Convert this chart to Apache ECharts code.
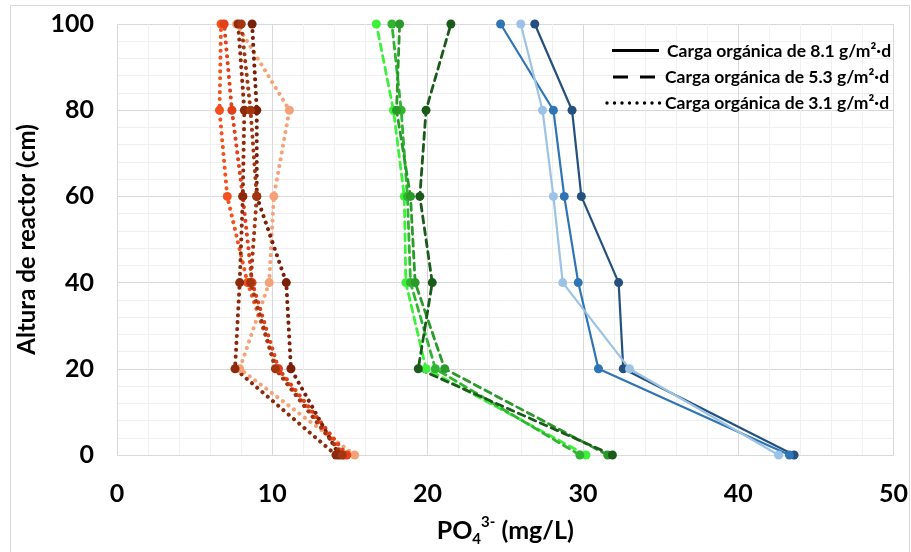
<!DOCTYPE html>
<html><head><meta charset="utf-8">
<script src="https://cdn.jsdelivr.net/npm/echarts@6/dist/echarts.min.js"></script>
<style>html,body{margin:0;padding:0;background:#fff}#c{width:911px;height:552px}</style>
</head><body><div id="c"></div>
<script>
// Reactor heights (cm)
const heights = [0, 20, 40, 60, 80, 100];
const xTicks = [0, 10, 20, 30, 40, 50];
const yTicks = [0, 20, 40, 60, 80, 100];

// Organic load 8.1 g/m2·d (solid)
const blueDark  = [43.6, 32.6, 32.3, 29.9, 29.3, 26.9];
const blueMid   = [43.3, 31.0, 29.7, 28.8, 28.1, 24.7];
const blueLight = [42.6, 33.0, 28.7, 28.1, 27.4, 26.0];

// Organic load 5.3 g/m2·d (dashed)
const greenLime = [30.2, 19.9, 18.6, 18.5, 17.8, 16.7];
const greenMid  = [29.8, 20.5, 18.9, 18.7, 18.3, 17.7];
const greenDeep = [31.6, 21.1, 19.2, 18.9, 18.0, 18.2];
const greenDark = [31.9, 19.4, 20.3, 19.5, 19.9, 21.5];

// Organic load 3.1 g/m2·d (dotted)
const orLight = [15.3, 7.9, 9.8, 10.1, 11.1, 7.7];
const orRed1  = [14.6, 10.3, 8.4, 7.1, 6.6, 6.7];
const orRed2  = [14.8, 10.4, 8.7, 8.1, 7.4, 6.9];
const orDark1 = [14.3, 11.2, 10.9, 9.0, 9.0, 8.7];
const orDark2 = [14.1, 7.6, 7.9, 8.1, 8.2, 7.8];
const orDark3 = [14.5, 10.2, 8.6, 9.0, 8.6, 8.0];

const legendLabels = ['Carga orgánica de 8.1 g/m²·d', 'Carga orgánica de 5.3 g/m²·d', 'Carga orgánica de 3.1 g/m²·d'];

function pairs(vals) { return vals.map((v, i) => [v, heights[i]]); }
function mk(name, vals, color, type, width) {
  return {
    name: name, type: 'line', data: pairs(vals),
    symbol: 'circle', symbolSize: 9,
    itemStyle: { color: color },
    lineStyle: { color: color, width: width, type: type, cap: 'round' },
    animation: false
  };
}
const dashT = [7, 5];
const dotT = [0.1, 6.8];

const FONT = 'Lato';
// legend marks (line-style samples), drawn above the grid lines
const legendGraphics = [];
legendGraphics.push({ type: 'rect', z: 100, shape: { x: 612, y: 49, width: 47, height: 3 }, style: { fill: '#000' } });
[[613, 15], [640, 15]].forEach(d => legendGraphics.push({ type: 'rect', z: 100, shape: { x: d[0], y: 75.5, width: d[1], height: 3 }, style: { fill: '#000' } }));
for (let x = 607; x <= 662; x += 7.5) legendGraphics.push({ type: 'circle', z: 100, shape: { cx: x, cy: 103, r: 1.7 }, style: { fill: '#000' } });
const ly = [51, 77, 103], lx = [667, 665, 665];
legendLabels.forEach((t, i) => legendGraphics.push({ type: 'text', z: 100, x: lx[i], y: ly[i], style: { text: t, fontFamily: FONT, fontWeight: 'bold', fontSize: 17.5, fill: '#000', textVerticalAlign: 'middle' } }));

const chart = echarts.init(document.getElementById('c'));
chart.setOption({
  backgroundColor: '#fff',
  animation: false,
  grid: { left: 117, right: 8, top: 24, bottom: 85 },
  xAxis: {
    type: 'value', min: 0, max: 50, interval: 10,
    axisLine: { show: false }, axisTick: { show: false },
    axisLabel: { fontFamily: FONT, fontWeight: 'bold', fontSize: 25, color: '#000', margin: 26,
      formatter: v => xTicks.includes(v) ? String(v) : '' },
    splitLine: { show: true, lineStyle: { color: '#d9d9d9', width: 1 } },
    minorTick: { show: false, splitNumber: 5 },
    minorSplitLine: { show: true, lineStyle: { color: '#f0f0f0', width: 1 } },
    name: '{a|PO}{sub|4}{sup|3-}{a| (mg/L)}', nameLocation: 'middle', nameGap: 60,
    nameTextStyle: { rich: {
      a: { fontFamily: FONT, fontWeight: 'bold', fontSize: 25, color: '#000', lineHeight: 32 },
      sub: { fontFamily: FONT, fontWeight: 'bold', fontSize: 15, color: '#000', verticalAlign: 'bottom', lineHeight: 32 },
      sup: { fontFamily: FONT, fontWeight: 'bold', fontSize: 15, color: '#000', verticalAlign: 'top', lineHeight: 32 }
    } }
  },
  yAxis: {
    type: 'value', min: 0, max: 100, interval: 20,
    axisLine: { show: false }, axisTick: { show: false },
    axisLabel: { fontFamily: FONT, fontWeight: 'bold', fontSize: 25, color: '#000', margin: 23,
      formatter: v => yTicks.includes(v) ? String(v) : '' },
    splitLine: { show: true, lineStyle: { color: '#d9d9d9', width: 1 } },
    minorTick: { show: false, splitNumber: 5 },
    minorSplitLine: { show: true, lineStyle: { color: '#f0f0f0', width: 1 } },
    name: 'Altura de reactor (cm)', nameLocation: 'middle', nameGap: 73, nameRotate: 90,
    nameTextStyle: { fontFamily: FONT, fontWeight: 'bold', fontSize: 24, color: '#000' }
  },
  series: [
    mk('o1', orLight, '#f5a27a', dotT, 4),
    mk('o2', orRed1, '#f4511e', dotT, 4),
    mk('o3', orRed2, '#e2401a', dotT, 4),
    mk('o4', orDark1, '#7a1f08', dotT, 4),
    mk('o5', orDark2, '#8e2a0c', dotT, 4),
    mk('o6', orDark3, '#a33510', dotT, 4),
    mk('g1', greenLime, '#3df03a', dashT, 2.8),
    mk('g2', greenMid, '#2fb52f', dashT, 2.8),
    mk('g3', greenDeep, '#2a9a2a', dashT, 2.8),
    mk('g4', greenDark, '#1a5a1a', dashT, 2.8),
    mk('b1', blueDark, '#24507e', 'solid', 2.2),
    mk('b2', blueMid, '#2f74b5', 'solid', 2.2),
    mk('b3', blueLight, '#9cc3e6', 'solid', 2.2)
  ],
  graphic: [
    { type: 'rect', shape: { x: 10.5, y: 5.5, width: 899, height: 600 }, style: { fill: 'none', stroke: '#d9d9d9', lineWidth: 1 }, z: -10, silent: true }
  ].concat(legendGraphics)
});
</script>
</body></html>
